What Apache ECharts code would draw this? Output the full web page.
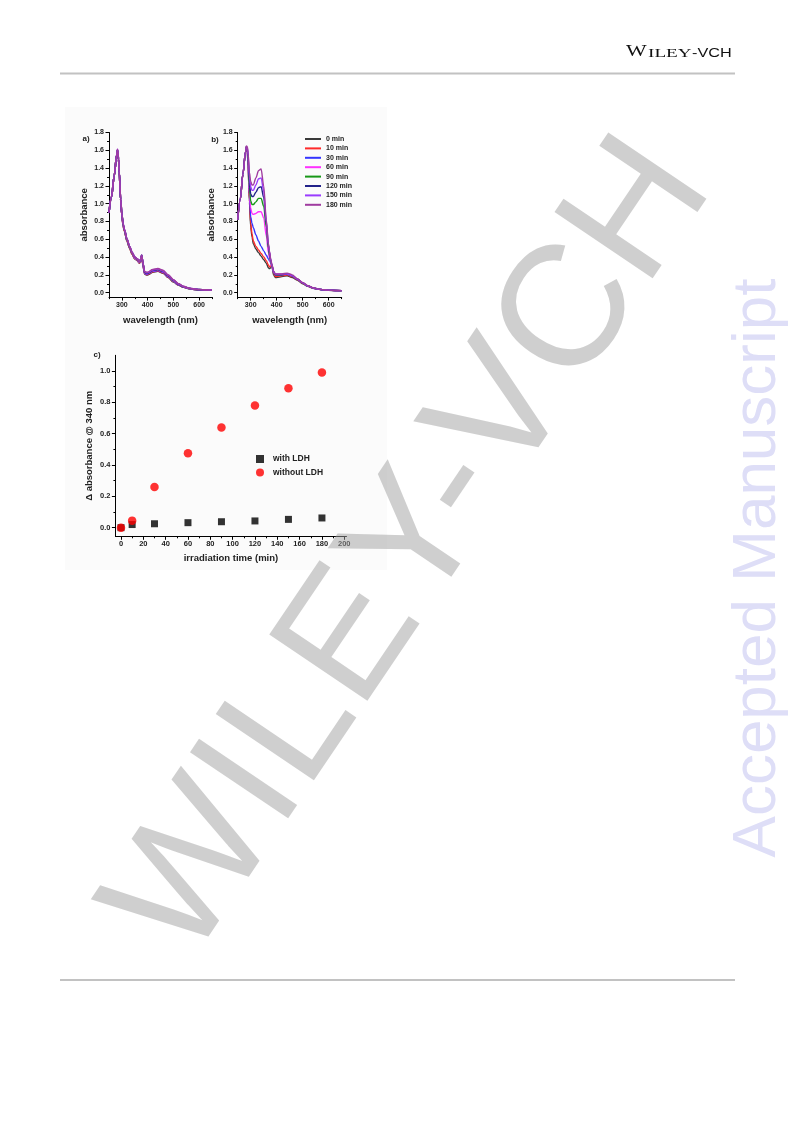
<!DOCTYPE html>
<html><head><meta charset="utf-8">
<script src="https://cdn.jsdelivr.net/npm/echarts@6/dist/echarts.min.js"></script>
<style>html,body{margin:0;padding:0;background:#fff}#c{width:793px;height:1121px}</style>
</head><body><div id="c"></div>
<script>
// ---------- data ----------
const WL = [250,260,270,280,283,287,290,295,300,305,310,320,330,340,350,360,368,372,377,382,388,395,400,420,440,460,480,500,520,540,560,580,600,625,650];
const TIME_NAMES = ['0 min','10 min','30 min','60 min','90 min','120 min','150 min','180 min'];

// panel a) absorbance spectra
const A0 = [0.90,1.08,1.31,1.55,1.60,1.50,1.35,1.05,0.87,0.75,0.69,0.58,0.50,0.43,0.38,0.36,0.33,0.35,0.41,0.31,0.21,0.20,0.20,0.23,0.24,0.22,0.17,0.12,0.085,0.06,0.045,0.036,0.032,0.029,0.027];
const A1 = [0.90,1.08,1.31,1.55,1.60,1.50,1.35,1.05,0.87,0.75,0.69,0.58,0.50,0.43,0.385,0.365,0.335,0.355,0.41,0.315,0.215,0.205,0.205,0.235,0.245,0.225,0.175,0.125,0.088,0.062,0.046,0.037,0.033,0.03,0.028];
const A2 = [0.90,1.08,1.31,1.55,1.60,1.50,1.35,1.05,0.87,0.76,0.70,0.59,0.51,0.44,0.39,0.37,0.34,0.36,0.42,0.32,0.22,0.21,0.21,0.24,0.25,0.23,0.18,0.13,0.09,0.063,0.047,0.037,0.033,0.03,0.028];
const A3 = [0.90,1.08,1.31,1.55,1.60,1.50,1.35,1.05,0.87,0.76,0.70,0.59,0.51,0.44,0.39,0.37,0.34,0.36,0.42,0.32,0.225,0.215,0.215,0.245,0.255,0.235,0.185,0.133,0.092,0.065,0.048,0.038,0.033,0.03,0.028];
const A4 = [0.90,1.08,1.31,1.55,1.60,1.50,1.35,1.05,0.88,0.76,0.70,0.59,0.51,0.44,0.395,0.375,0.345,0.365,0.42,0.325,0.23,0.22,0.22,0.25,0.26,0.24,0.19,0.136,0.094,0.066,0.048,0.038,0.034,0.03,0.028];
const A5 = [0.90,1.08,1.31,1.55,1.60,1.50,1.35,1.05,0.88,0.77,0.71,0.60,0.52,0.45,0.40,0.38,0.35,0.37,0.42,0.33,0.23,0.22,0.22,0.25,0.26,0.24,0.19,0.14,0.095,0.066,0.049,0.039,0.034,0.031,0.029];
const A6 = [0.90,1.08,1.31,1.55,1.61,1.51,1.35,1.06,0.88,0.77,0.71,0.60,0.52,0.45,0.40,0.38,0.35,0.37,0.42,0.33,0.235,0.225,0.225,0.255,0.265,0.245,0.195,0.142,0.097,0.068,0.05,0.04,0.035,0.031,0.029];
const A7 = [0.90,1.08,1.31,1.55,1.61,1.51,1.36,1.06,0.88,0.77,0.71,0.60,0.52,0.45,0.40,0.38,0.35,0.37,0.42,0.33,0.24,0.23,0.23,0.26,0.27,0.25,0.20,0.145,0.10,0.07,0.05,0.04,0.035,0.031,0.029];

// panel b) absorbance spectra
const B0 = [0.82,1.05,1.33,1.58,1.63,1.58,1.42,1.02,0.74,0.63,0.55,0.49,0.45,0.41,0.37,0.33,0.28,0.27,0.28,0.29,0.20,0.17,0.17,0.18,0.19,0.17,0.14,0.10,0.07,0.05,0.037,0.03,0.026,0.024,0.022];
const B1 = [0.82,1.05,1.33,1.58,1.63,1.58,1.43,1.05,0.78,0.66,0.58,0.52,0.48,0.44,0.40,0.36,0.31,0.29,0.30,0.31,0.22,0.18,0.18,0.19,0.20,0.18,0.145,0.105,0.072,0.052,0.038,0.031,0.027,0.025,0.023];
const B2 = [0.82,1.05,1.33,1.58,1.63,1.59,1.45,1.10,0.85,0.78,0.73,0.65,0.58,0.52,0.47,0.42,0.38,0.36,0.34,0.30,0.24,0.20,0.20,0.20,0.21,0.19,0.15,0.11,0.075,0.053,0.04,0.032,0.028,0.025,0.023];
const B3 = [0.82,1.05,1.33,1.58,1.63,1.60,1.48,1.12,0.95,0.89,0.88,0.89,0.91,0.91,0.84,0.64,0.45,0.39,0.33,0.28,0.23,0.20,0.20,0.20,0.21,0.19,0.15,0.11,0.075,0.053,0.04,0.032,0.028,0.025,0.023];
const B4 = [0.82,1.05,1.33,1.58,1.64,1.61,1.50,1.18,1.03,0.99,0.99,1.02,1.06,1.06,0.97,0.74,0.50,0.42,0.35,0.29,0.23,0.20,0.20,0.20,0.21,0.19,0.15,0.11,0.075,0.053,0.04,0.032,0.028,0.025,0.023];
const B5 = [0.82,1.05,1.33,1.58,1.64,1.62,1.53,1.24,1.11,1.08,1.08,1.13,1.18,1.19,1.07,0.78,0.53,0.45,0.37,0.30,0.23,0.20,0.20,0.20,0.21,0.19,0.15,0.11,0.075,0.053,0.04,0.032,0.028,0.025,0.023];
const B6 = [0.82,1.05,1.33,1.58,1.64,1.63,1.55,1.30,1.19,1.15,1.15,1.21,1.28,1.29,1.14,0.80,0.54,0.46,0.37,0.30,0.23,0.21,0.21,0.21,0.21,0.19,0.15,0.11,0.075,0.053,0.04,0.032,0.028,0.025,0.023];
const B7 = [0.82,1.05,1.33,1.58,1.65,1.64,1.57,1.35,1.25,1.21,1.21,1.29,1.37,1.39,1.20,0.82,0.55,0.47,0.38,0.31,0.24,0.21,0.21,0.21,0.22,0.20,0.155,0.115,0.078,0.055,0.041,0.033,0.028,0.025,0.023];

// panel c) delta absorbance at 340 nm
const TIMES = [0,10,30,60,90,120,150,180];
const WITH_LDH = [0.0,0.02,0.025,0.032,0.038,0.043,0.053,0.062];
const WITHOUT_LDH = [0.0,0.045,0.26,0.475,0.64,0.78,0.89,0.99];

// tick values
const X_TICKS_AB = [300,400,500,600];
const X_MINOR_AB = [250,350,450,550,650];
const Y_TICKS_AB = [0,0.2,0.4,0.6,0.8,1.0,1.2,1.4,1.6,1.8];
const Y_MINOR_AB = [0.1,0.3,0.5,0.7,0.9,1.1,1.3,1.5,1.7];
const X_TICKS_C = [0,20,40,60,80,100,120,140,160,180,200];
const X_MINOR_C = [10,30,50,70,90,110,130,150,170,190];
const Y_TICKS_C = [0,0.2,0.4,0.6,0.8,1.0];
const Y_MINOR_C = [0.1,0.3,0.5,0.7,0.9];

// ---------- styles ----------
const COLORS = ['#3a3a3a','#ff2a2a','#3535ff','#ff30ff','#189818','#23238a','#9a3cff','#a03ca0'];
const FONT = 'Liberation Sans';

const A_SETS = [A0,A1,A2,A3,A4,A5,A6,A7];
const B_SETS = [B0,B1,B2,B3,B4,B5,B6,B7];
const zip = (xs, ys) => xs.map((x, i) => [x, ys[i]]);

function majorAxis(gridIndex, min, max, pos, ticks, fmt, labelSize, name, nameGap, nameSize, nameRotate) {
  return {
    type: 'value', gridIndex, min, max, position: pos,
    axisLine: { show: true, onZero: false, lineStyle: { color: '#000', width: 1 } },
    splitLine: { show: false },
    axisTick: { show: true, inside: false, length: 3.5, customValues: ticks, lineStyle: { color: '#000', width: 1 } },
    axisLabel: { customValues: ticks, formatter: fmt, fontSize: labelSize, fontWeight: 'bold', color: '#222', fontFamily: FONT, margin: pos === 'left' ? 5 : 4 },
    name, nameLocation: 'middle', nameGap, nameRotate,
    nameTextStyle: { fontSize: nameSize, fontWeight: 'bold', color: '#222', fontFamily: FONT }
  };
}
function minorAxis(gridIndex, min, max, pos, ticks) {
  return {
    type: 'value', gridIndex, min, max, position: pos,
    axisLine: { show: false, onZero: false },
    splitLine: { show: false },
    axisTick: { show: true, inside: false, length: 2, customValues: ticks, lineStyle: { color: '#000', width: 1 } },
    axisLabel: { show: false }
  };
}
const f1 = v => Number(v).toFixed(1);
const f0 = v => String(Math.round(v));

const series = [];
A_SETS.forEach((arr, i) => series.push({
  type: 'line', name: 'a ' + TIME_NAMES[i], xAxisIndex: 0, yAxisIndex: 0,
  data: zip(WL, arr), showSymbol: false, smooth: 0.3, smoothMonotone: 'x',
  lineStyle: { color: COLORS[i], width: 1.6 }, itemStyle: { color: COLORS[i] }, z: 2 + i
}));
B_SETS.forEach((arr, i) => series.push({
  type: 'line', name: TIME_NAMES[i], xAxisIndex: 2, yAxisIndex: 2,
  data: zip(WL, arr), showSymbol: false, smooth: 0.3, smoothMonotone: 'x',
  lineStyle: { color: COLORS[i], width: 1.4 }, itemStyle: { color: COLORS[i] }, z: 2 + i
}));
series.push({
  type: 'scatter', name: 'with LDH', xAxisIndex: 4, yAxisIndex: 4,
  data: zip(TIMES, WITH_LDH), symbol: 'rect', symbolSize: 7, itemStyle: { color: '#000' }, z: 3
});
series.push({
  type: 'scatter', name: 'without LDH', xAxisIndex: 4, yAxisIndex: 4,
  data: zip(TIMES, WITHOUT_LDH), symbol: 'circle', symbolSize: 8.5, itemStyle: { color: '#ff0000' }, z: 4
});

const option = {
  animation: false,
  backgroundColor: '#ffffff',
  grid: [
    { left: 109, top: 132.5, width: 103, height: 164.6 },
    { left: 237.7, top: 132.5, width: 104, height: 164.6 },
    { left: 115.4, top: 355.3, width: 231.1, height: 181 }
  ],
  xAxis: [
    majorAxis(0, 250, 650, 'bottom', X_TICKS_AB, f0, 7, 'wavelength (nm)', 18, 9.5, 0),
    minorAxis(0, 250, 650, 'bottom', X_MINOR_AB),
    majorAxis(1, 250, 650, 'bottom', X_TICKS_AB, f0, 7, 'wavelength (nm)', 18, 9.5, 0),
    minorAxis(1, 250, 650, 'bottom', X_MINOR_AB),
    majorAxis(2, -5, 202, 'bottom', X_TICKS_C, f0, 7.5, 'irradiation time (min)', 17, 9.5, 0),
    minorAxis(2, -5, 202, 'bottom', X_MINOR_C)
  ],
  yAxis: [
    majorAxis(0, -0.05, 1.8, 'left', Y_TICKS_AB, f1, 7, 'absorbance', 20, 9.5, 90),
    minorAxis(0, -0.05, 1.8, 'left', Y_MINOR_AB),
    majorAxis(1, -0.05, 1.8, 'left', Y_TICKS_AB, f1, 7, 'absorbance', 21, 9.5, 90),
    minorAxis(1, -0.05, 1.8, 'left', Y_MINOR_AB),
    majorAxis(2, -0.055, 1.1, 'left', Y_TICKS_C, f1, 7.5, '\u0394 absorbance @ 340 nm', 21, 9.5, 90),
    minorAxis(2, -0.055, 1.1, 'left', Y_MINOR_C)
  ],
  legend: [
    {
      data: TIME_NAMES, orient: 'vertical', left: 305, top: 135,
      itemWidth: 16, itemHeight: 2, icon: 'rect', itemGap: 1.4, padding: 0,
      textStyle: { fontSize: 7, fontWeight: 'bold', color: '#222', fontFamily: FONT, lineHeight: 8 },
      selectedMode: false
    },
    {
      data: ['with LDH', 'without LDH'], orient: 'vertical', left: 256, top: 454.5,
      itemWidth: 8, itemHeight: 8, itemGap: 4.5, padding: 0,
      textStyle: { fontSize: 8.5, fontWeight: 'bold', color: '#222', fontFamily: FONT, lineHeight: 9, padding: [0, 0, 0, 4] },
      selectedMode: false
    }
  ],
  graphic: [
    { type: 'rect', shape: { x: 65, y: 107, width: 322, height: 463 }, style: { fill: '#fbfbfb' }, z: -10, silent: true },
    { type: 'line', shape: { x1: 60, y1: 73.5, x2: 735, y2: 73.5 }, style: { stroke: '#c2c2c2', lineWidth: 2 } },
    { type: 'line', shape: { x1: 60, y1: 980, x2: 735, y2: 980 }, style: { stroke: '#c2c2c2', lineWidth: 2 } },
    { type: 'text', x: 626, y: 60.5, scaleX: 1.25, style: { text: 'W', fontFamily: 'Liberation Serif', fontSize: 17.5, fill: '#111', textAlign: 'left', textVerticalAlign: 'bottom' } },
    { type: 'text', x: 648, y: 60, scaleX: 1.42, style: { text: 'ILEY', fontFamily: 'Liberation Serif', fontSize: 13.5, fill: '#111', textAlign: 'left', textVerticalAlign: 'bottom' } },
    { type: 'text', x: 692, y: 60, scaleX: 1.25, style: { text: '-VCH', fontFamily: FONT, fontSize: 13, fill: '#111', textAlign: 'left', textVerticalAlign: 'bottom' } },
    { type: 'text', x: 86, y: 139, style: { text: 'a)', fontFamily: FONT, fontWeight: 'bold', fontSize: 8, fill: '#222', textAlign: 'center', textVerticalAlign: 'middle' } },
    { type: 'text', x: 215, y: 140, style: { text: 'b)', fontFamily: FONT, fontWeight: 'bold', fontSize: 8, fill: '#222', textAlign: 'center', textVerticalAlign: 'middle' } },
    { type: 'text', x: 97, y: 355, style: { text: 'c)', fontFamily: FONT, fontWeight: 'bold', fontSize: 8, fill: '#222', textAlign: 'center', textVerticalAlign: 'middle' } },
    { type: 'text', x: 758, y: 568, rotation: Math.PI / 2, style: { text: 'Accepted Manuscript', fontFamily: FONT, fontSize: 62, fill: '#dedef7', textAlign: 'center', textVerticalAlign: 'middle' }, z: 50, silent: true },
    { type: 'text', x: 412, y: 550, rotation: 56 * Math.PI / 180, style: { text: 'WILEY-VCH', fontFamily: FONT, fontSize: 172, fill: 'rgba(160,160,160,0.5)', textAlign: 'center', textVerticalAlign: 'middle' }, z: 50, silent: true }
  ],
  series
};

const chart = echarts.init(document.getElementById('c'), null, { renderer: 'canvas', width: 793, height: 1121 });
chart.setOption(option);
</script></body></html>
